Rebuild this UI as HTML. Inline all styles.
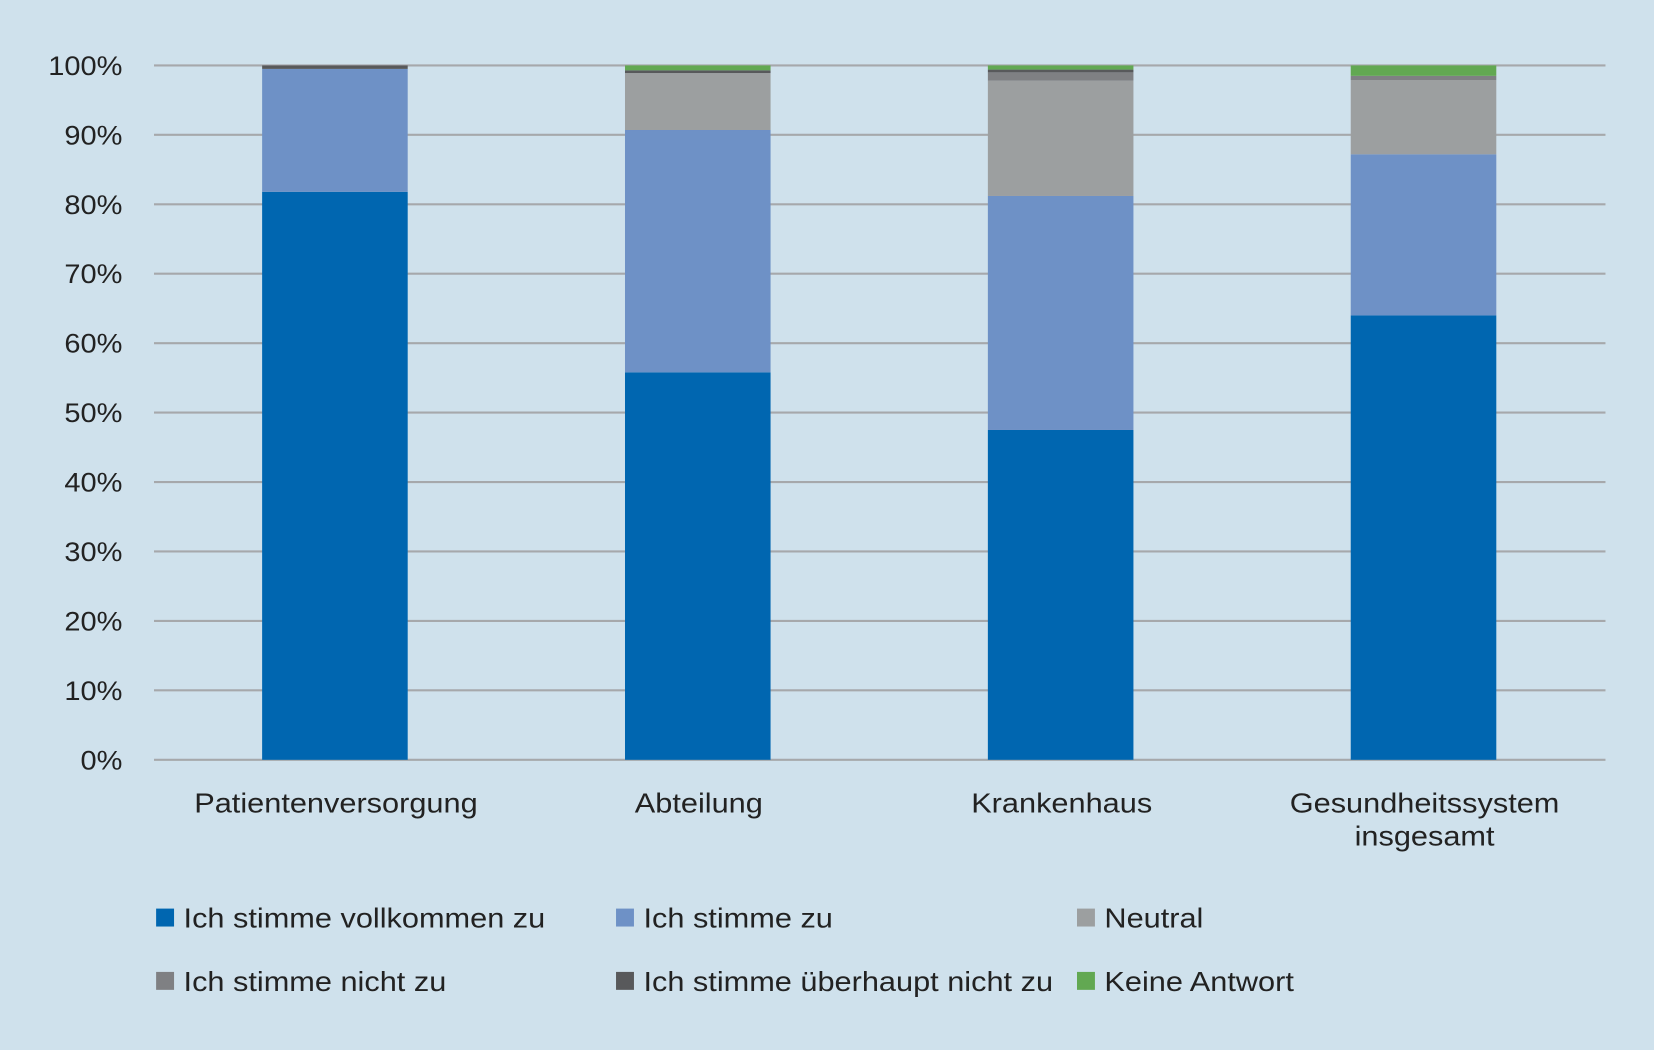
<!DOCTYPE html>
<html><head><meta charset="utf-8"><style>
html,body{margin:0;padding:0;background:#cfe1ec;}
svg{display:block;font-family:"Liberation Sans",Carlito,sans-serif;}
</style></head><body>
<svg id="chart" width="1654" height="1050" viewBox="0 0 1568 995" preserveAspectRatio="none">
<rect width="1568" height="995" fill="#cfe1ec"/>
<g id="grid"></g><g id="bars"></g><g id="labels"></g><g id="legend"></g>
</svg>
<script>
const categories = [["Patientenversorgung"],["Abteilung"],["Krankenhaus"],["Gesundheitssystem","insgesamt"]];
const seriesNames = ["Ich stimme vollkommen zu","Ich stimme zu","Neutral","Ich stimme nicht zu","Ich stimme überhaupt nicht zu","Keine Antwort"];
const vollkommen = [81.8, 55.8, 47.5, 64.0];
const zu = [17.7, 34.9, 33.7, 23.2];
const neutral = [0, 8.2, 16.6, 10.7];
const nichtZu = [0, 0, 1.2, 0.6];
const ueberhauptNicht = [0.5, 0.4, 0.4, 0];
const keineAntwort = [0, 0.7, 0.6, 1.5];
const yTicks = [0,10,20,30,40,50,60,70,80,90,100];

const series = [vollkommen, zu, neutral, nichtZu, ueberhauptNicht, keineAntwort];
const colors = ["#0066b0","#6e91c6","#9c9fa0","#7f8083","#58595b","#62a852"];
const NS = "http://www.w3.org/2000/svg";
const plotL = 146, plotR = 1522, y0 = 720, y100 = 62;
const y = v => y0 - (v/100)*(y0-y100);
const band = (plotR-plotL)/categories.length;
const xc = i => plotL + band*(i+0.5) - 0.5;
const barW = 138;
function mk(tag, attrs, parent){const e=document.createElementNS(NS,tag);for(const k in attrs)e.setAttribute(k,attrs[k]);parent.appendChild(e);return e;}
function widen(t, f){const w=t.getComputedTextLength();t.setAttribute('textLength',(w*f).toFixed(1));t.setAttribute('lengthAdjust','spacingAndGlyphs');}
const grid=document.getElementById('grid'), bars=document.getElementById('bars'), labels=document.getElementById('labels'), legend=document.getElementById('legend');
yTicks.forEach(t=>{
  const l=mk('line',{x1:plotL,x2:plotR,y1:y(t),y2:y(t),stroke:'#a6a8ab','stroke-width':2},grid);
  
  
  const tx=mk('text',{x:116,y:y(t)+9,'text-anchor':'end','font-size':25,fill:'#222'},labels);
  tx.textContent=t+'%';
  
  
  widen(tx,1.1);
});
categories.forEach((c,i)=>{
  let acc=0;
  series.forEach((s,si)=>{
    const v=s[i]; if(!v) return;
    const r=mk('rect',{x:xc(i)-barW/2,width:barW,y:y(acc+v),height:y(acc)-y(acc+v),fill:colors[si]},bars);
    
    
    acc+=v;
  });
  c.forEach((line,li)=>{
    const tx=mk('text',{x:xc(i)+1,y:770+li*31,'text-anchor':'middle','font-size':26,fill:'#222'},labels);
    tx.textContent=line;
    
    
    widen(tx,1.12);
  });
});
const legX=[148,584,1021], legY=[870,930];
seriesNames.forEach((n,i)=>{
  const x=legX[i%3], yy=legY[Math.floor(i/3)];
  const g=mk('g',{},legend);
  
  
  mk('rect',{x:x,y:yy-9,width:17,height:17,fill:colors[i]},g);
  const tx=mk('text',{x:x+26,y:yy+9,'font-size':26,fill:'#222'},g);
  tx.textContent=n;
  widen(tx,1.12);
});
</script>
</body></html>
